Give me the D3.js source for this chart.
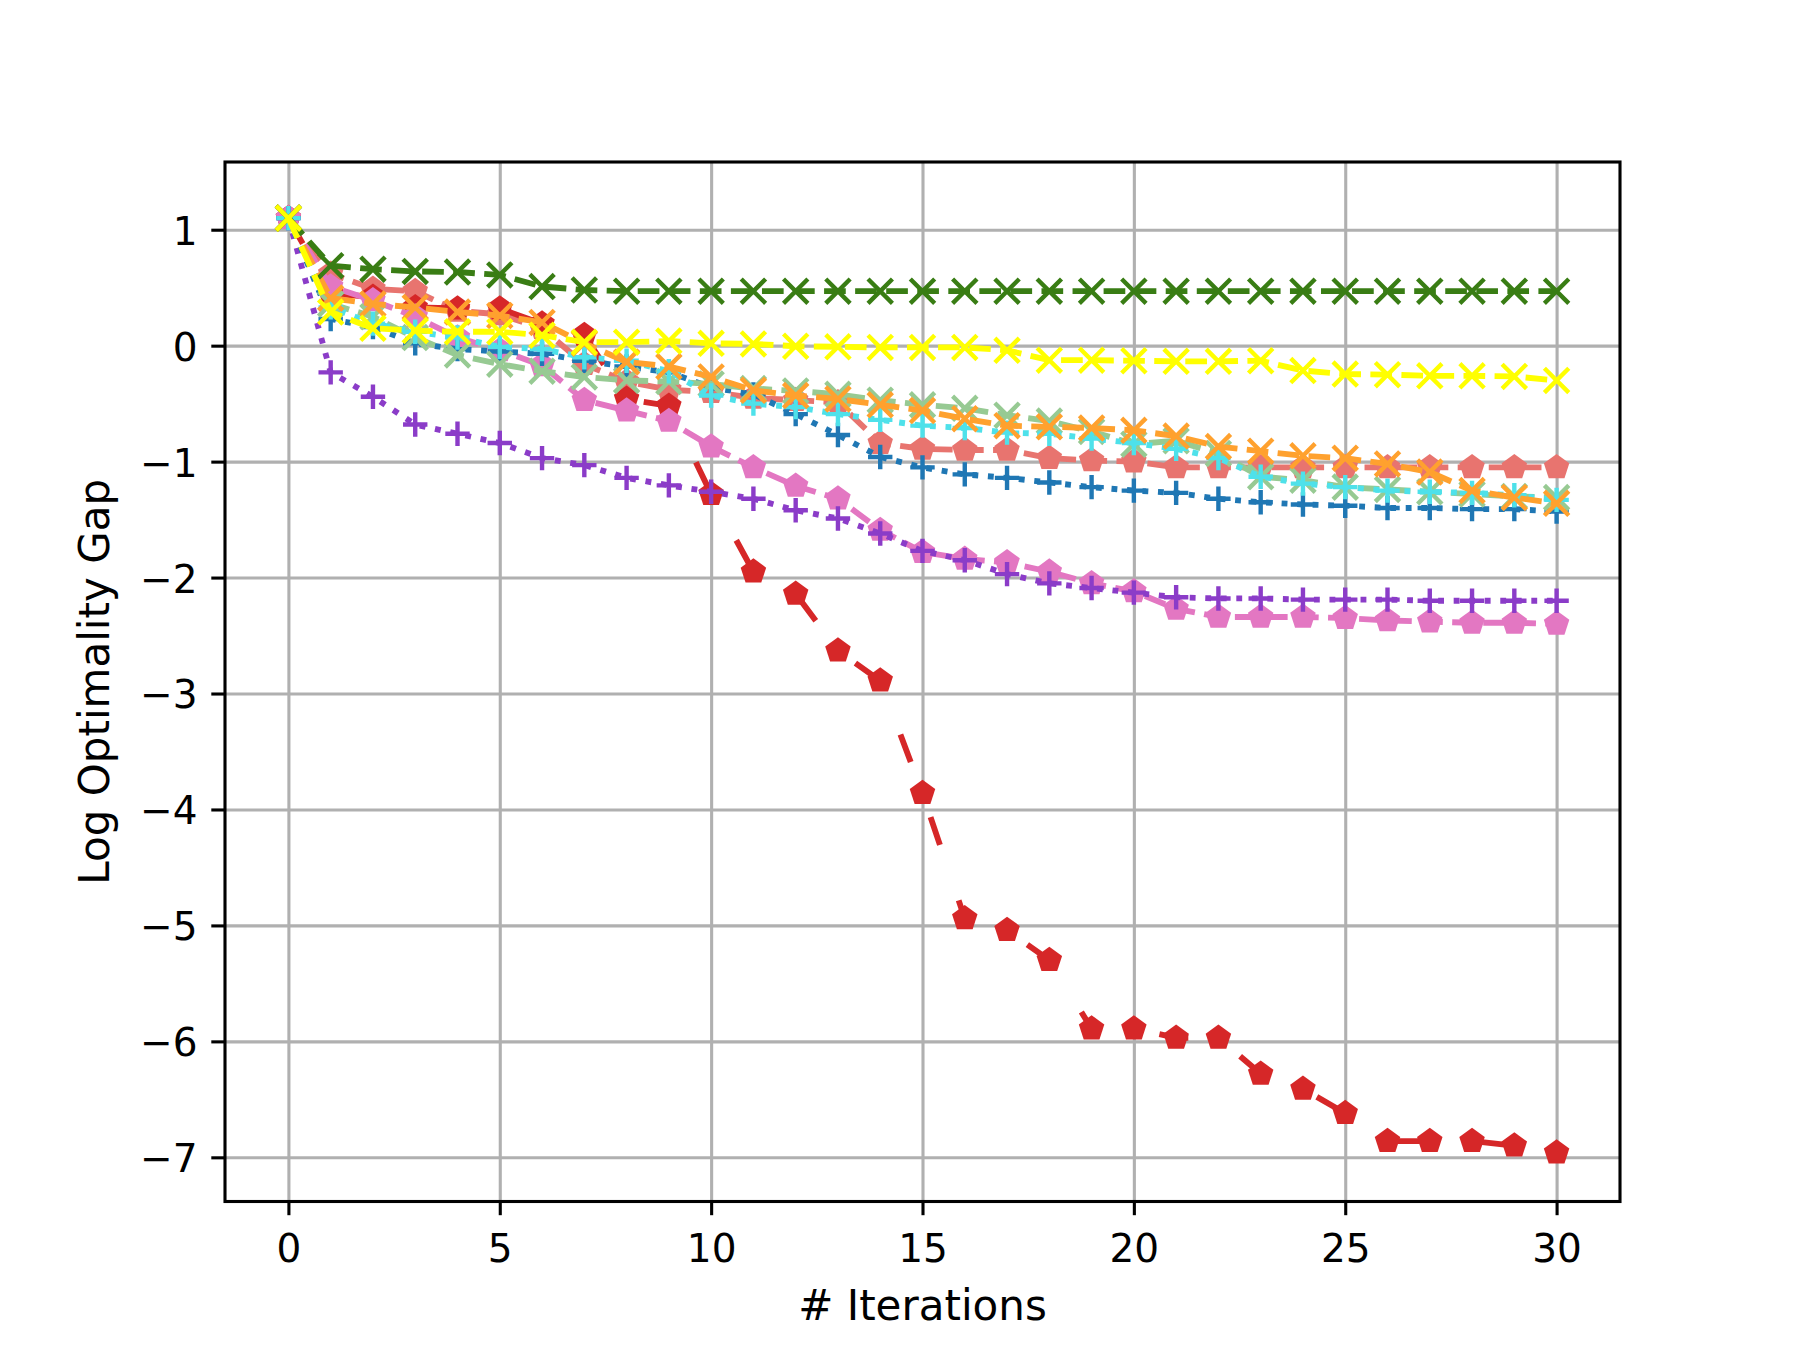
<html>
  <head>
    <script src="https://d3js.org/d3.v7.min.js"></script>
  <style>
    body { margin: 0; background: #fff; }
    text { font-family: "DejaVu Sans", sans-serif; fill: black; }
    .gridlines line { stroke: #b0b0b0; stroke-width: 3.1px; }
    .gridlines .domain { stroke: none; }
  </style>
  </head>

  <body>
    <svg id="mainSVG" width="1800" height="1350"></svg>
  </body>

  <script>
      // Data (log optimality gap per iteration)
      const iterations = [0, 1, 2, 3, 4, 5, 6, 7, 8, 9, 10, 11, 12, 13, 14, 15,
                          16, 17, 18, 19, 20, 21, 22, 23, 24, 25, 26, 27, 28, 29, 30];
      const xTicks = [0, 5, 10, 15, 20, 25, 30];
      const yTicks = [-7, -6, -5, -4, -3, -2, -1, 0, 1];

      const salmonGap = [1.1, 0.62, 0.49, 0.47, 0.30, 0.27, 0.15, -0.16, -0.31, -0.38, -0.40,
        -0.45, -0.47, -0.49, -0.84, -0.89, -0.90, -0.90, -0.97, -0.99, -1.00,
        -1.05, -1.05, -1.05, -1.05, -1.05, -1.05, -1.05, -1.05, -1.05, -1.05];
      const redGap = [1.1, 0.45, 0.42, 0.33, 0.32, 0.32, 0.19, 0.09, -0.46, -0.52, -1.28,
        -1.95, -2.14, -2.63, -2.89, -3.86, -4.94, -5.04, -5.30, -5.89, -5.89,
        -5.97, -5.97, -6.28, -6.41, -6.62, -6.86, -6.86, -6.86, -6.90, -6.96];
      const pinkGap = [1.1, 0.51, 0.39, 0.25, 0.07, -0.04, -0.17, -0.47, -0.56, -0.65, -0.87,
        -1.05, -1.21, -1.32, -1.59, -1.78, -1.84, -1.87, -1.95, -2.05, -2.12,
        -2.27, -2.34, -2.34, -2.34, -2.35, -2.37, -2.38, -2.39, -2.39, -2.40];
      const purpleGap = [1.1, -0.23, -0.44, -0.68, -0.76, -0.84, -0.97, -1.03, -1.14, -1.205, -1.26,
        -1.32, -1.42, -1.49, -1.62, -1.77, -1.85, -1.97, -2.05, -2.09, -2.13,
        -2.17, -2.18, -2.18, -2.19, -2.19, -2.19, -2.20, -2.20, -2.20, -2.20];
      const blueGap = [1.1, 0.23, 0.16, 0.02, -0.03, -0.05, -0.07, -0.13, -0.18, -0.23, -0.36,
        -0.42, -0.59, -0.77, -0.96, -1.05, -1.11, -1.14, -1.18, -1.22, -1.25,
        -1.27, -1.32, -1.35, -1.37, -1.38, -1.40, -1.40, -1.41, -1.41, -1.43];
      const lightGreenGap = [1.1, 0.36, 0.25, 0.07, -0.08, -0.16, -0.22, -0.27, -0.30, -0.31, -0.33,
        -0.37, -0.39, -0.42, -0.47, -0.51, -0.54, -0.60, -0.65, -0.74, -0.85,
        -0.82, -0.93, -1.13, -1.16, -1.22, -1.24, -1.26, -1.28, -1.30, -1.31];
      const cyanGap = [1.1, 0.33, 0.19, 0.12, 0.07, -0.01, -0.03, -0.10, -0.13, -0.22, -0.43,
        -0.50, -0.53, -0.59, -0.64, -0.69, -0.71, -0.75, -0.76, -0.80, -0.84,
        -0.89, -0.97, -1.13, -1.19, -1.22, -1.25, -1.26, -1.27, -1.29, -1.33];
      const orangeGap = [1.1, 0.41, 0.36, 0.33, 0.29, 0.26, 0.20, 0.02, -0.14, -0.18, -0.27,
        -0.385, -0.43, -0.46, -0.51, -0.56, -0.63, -0.69, -0.70, -0.71, -0.73,
        -0.78, -0.87, -0.91, -0.95, -0.97, -1.02, -1.09, -1.25, -1.31, -1.36];
      const darkGreenGap = [1.1, 0.69, 0.66, 0.64, 0.635, 0.61, 0.51, 0.48, 0.47, 0.47, 0.47,
        0.47, 0.47, 0.47, 0.47, 0.47, 0.47, 0.47, 0.47, 0.47, 0.47,
        0.47, 0.47, 0.47, 0.47, 0.47, 0.47, 0.47, 0.47, 0.47, 0.47];
      const yellowGap = [1.1, 0.29, 0.15, 0.13, 0.12, 0.12, 0.09, 0.03, 0.03, 0.04, 0.02,
        0.015, -0.005, -0.01, -0.015, -0.015, -0.015, -0.04, -0.125, -0.125, -0.13,
        -0.135, -0.135, -0.13, -0.215, -0.245, -0.25, -0.26, -0.26, -0.265, -0.30];

      // line width 1.5pt at this dpi, dash patterns as matplotlib scales them
      const lw = 5.86;
      const dashed = `${3.7 * lw} ${1.6 * lw}`;
      const dotted = `${1 * lw} ${1.65 * lw}`;
      const looseDashed = `${5 * lw} ${10 * lw}`;

      // draw order follows the overlaps seen in the picture
      const series = [
        { values: salmonGap, color: "#e8746f", marker: "pentagon", dash: dashed },
        { values: redGap, color: "#d62728", marker: "pentagon", dash: looseDashed },
        { values: pinkGap, color: "#e377c2", marker: "pentagon", dash: dashed },
        { values: purpleGap, color: "#8b3cc8", marker: "plus", dash: dotted },
        { values: blueGap, color: "#1f77b4", marker: "plus", dash: dotted },
        { values: lightGreenGap, color: "#97ca93", marker: "cross", dash: dashed },
        { values: cyanGap, color: "#4ee1ea", marker: "plus", dash: dotted },
        { values: orangeGap, color: "#ffa12e", marker: "cross", dash: dashed },
        { values: darkGreenGap, color: "#397d14", marker: "cross", dash: dashed },
        { values: yellowGap, color: "#ffff00", marker: "cross", dash: dashed }
      ];

      const mainSvg = d3.select("#mainSVG");
      const plot = { left: 225, right: 1620, top: 162, bottom: 1201.5 };

      const xScale = d3.scaleLinear().domain([-1.5, 31.5]).range([plot.left, plot.right]);
      const yScale = d3.scaleLinear().domain([-7.381, 1.584]).range([plot.bottom, plot.top]);

      const minusFmt = d => d < 0 ? "\u2212" + Math.abs(d) : String(d);

      // Gridlines
      mainSvg.append("g")
        .attr("class", "gridlines")
        .attr("transform", `translate(0,${plot.bottom})`)
        .call(d3.axisBottom(xScale).tickValues(xTicks).tickSize(-(plot.bottom - plot.top)).tickFormat(""));
      mainSvg.append("g")
        .attr("class", "gridlines")
        .attr("transform", `translate(${plot.left},0)`)
        .call(d3.axisLeft(yScale).tickValues(yTicks).tickSize(-(plot.right - plot.left)).tickFormat(""));

      // Marker shapes
      const arm = 12.2;
      const penR = 13.4;
      const markerPath = {
        cross: `M${-arm},${-arm}L${arm},${arm}M${-arm},${arm}L${arm},${-arm}`,
        plus: `M${-arm},0L${arm},0M0,${-arm}L0,${arm}`,
        pentagon: d3.range(5).map(k => {
          const a = (-90 + k * 72) * Math.PI / 180;
          return (k ? "L" : "M") + (penR * Math.cos(a)).toFixed(2) + "," + (penR * Math.sin(a)).toFixed(2);
        }).join("") + "Z"
      };

      const line = d3.line()
        .x((d, i) => xScale(iterations[i]))
        .y(d => yScale(d));

      series.forEach(s => {
        const g = mainSvg.append("g");
        g.append("path")
          .attr("d", line(s.values))
          .attr("fill", "none")
          .attr("stroke", s.color)
          .attr("stroke-width", lw)
          .attr("stroke-dasharray", s.dash)
          .attr("stroke-linejoin", "round")
          .attr("stroke-linecap", "butt");

        g.selectAll("path.marker")
          .data(s.values)
          .join("path")
          .attr("class", "marker")
          .attr("transform", (d, i) => `translate(${xScale(iterations[i])},${yScale(d)})`)
          .attr("d", markerPath[s.marker])
          .attr("fill", s.marker === "pentagon" ? s.color : "none")
          .attr("stroke", s.marker === "pentagon" ? "none" : s.color)
          .attr("stroke-width", 4.4);
      });

      // Frame
      mainSvg.append("rect")
        .attr("x", plot.left)
        .attr("y", plot.top)
        .attr("width", plot.right - plot.left)
        .attr("height", plot.bottom - plot.top)
        .attr("fill", "none")
        .attr("stroke", "black")
        .attr("stroke-width", 3.1);

      // Axes
      const xAxis = mainSvg.append("g")
        .attr("transform", `translate(0,${plot.bottom})`)
        .call(d3.axisBottom(xScale).tickValues(xTicks).tickSize(13.7).tickPadding(13.7).tickFormat(minusFmt));
      xAxis.select(".domain").remove();
      xAxis.selectAll("line").attr("stroke-width", 3.1);
      xAxis.selectAll("text").attr("dy", "0.85em").style("font-size", "39px")
        .style("font-family", "'DejaVu Sans', sans-serif");

      const yAxis = mainSvg.append("g")
        .attr("transform", `translate(${plot.left},0)`)
        .call(d3.axisLeft(yScale).tickValues(yTicks).tickSize(13.7).tickPadding(13.7).tickFormat(minusFmt));
      yAxis.select(".domain").remove();
      yAxis.selectAll("line").attr("stroke-width", 3.1);
      yAxis.selectAll("text").attr("dy", "0.37em").style("font-size", "39px")
        .style("font-family", "'DejaVu Sans', sans-serif");

      // Axis labels
      mainSvg.append("text")
        .attr("x", (plot.left + plot.right) / 2)
        .attr("y", 1320)
        .attr("text-anchor", "middle")
        .style("font-size", "42px")
        .text("# Iterations");

      mainSvg.append("text")
        .attr("transform", `translate(109,${(plot.top + plot.bottom) / 2}) rotate(-90)`)
        .attr("text-anchor", "middle")
        .style("font-size", "42px")
        .text("Log Optimality Gap");
  </script>
</html>
